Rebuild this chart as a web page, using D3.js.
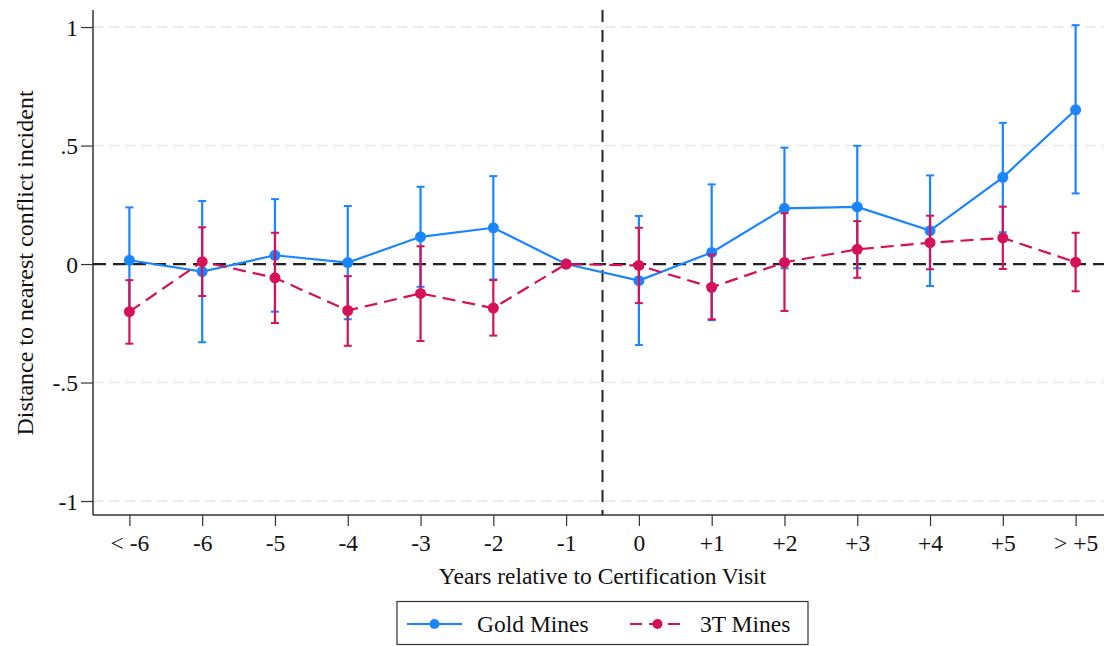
<!DOCTYPE html>
<html>
<head>
<meta charset="utf-8">
<script src="https://cdn.jsdelivr.net/npm/d3@7"></script>
<style>
  body { margin: 0; background: #fff; }
  svg text { font-family: "Liberation Serif", "Times New Roman", serif; fill: #111; }
</style>
</head>
<body>
<div id="chart"></div>
<script>
// categories on the x axis
const periods = ["< -6", "-6", "-5", "-4", "-3", "-2", "-1", "0", "+1", "+2", "+3", "+4", "+5", "> +5"];

// Gold mines: estimate and 95% CI
const goldEst = [0.016, -0.032, 0.037, 0.006, 0.115, 0.153, 0, -0.070, 0.049, 0.235, 0.241, 0.141, 0.366, 0.651];
const goldLo  = [-0.207, -0.330, -0.201, -0.233, -0.096, -0.065, null, -0.342, -0.237, -0.018, -0.018, -0.093, 0.134, 0.298];
const goldHi  = [0.239, 0.266, 0.274, 0.245, 0.326, 0.371, null, 0.203, 0.336, 0.491, 0.499, 0.374, 0.596, 1.008];

// 3T mines: estimate and 95% CI
const tEst = [-0.201, 0.010, -0.058, -0.196, -0.124, -0.186, 0, -0.006, -0.098, 0.007, 0.062, 0.090, 0.110, 0.008];
const tLo  = [-0.336, -0.135, -0.249, -0.345, -0.325, -0.302, null, -0.165, -0.233, -0.198, -0.058, -0.022, -0.021, -0.115];
const tHi  = [-0.068, 0.155, 0.132, -0.051, 0.075, -0.068, null, 0.153, 0.040, 0.214, 0.181, 0.204, 0.242, 0.132];

const yTicks = [-1, -0.5, 0, 0.5, 1];
const yTickLabels = ["-1", "-.5", "0", ".5", "1"];

const blue = "#1a85ff";
const red = "#d41159";
const fontSize = "23.5px";

const W = 1106, H = 646;
const svg = d3.select("#chart").append("svg")
    .attr("width", W)
    .attr("height", H);

// plot area
const plot = { left: 93, right: 1104, top: 10, bottom: 515 };

const x = d3.scaleLinear()
    .domain([-0.5, 13.39])
    .range([plot.left, plot.right]);

const y = d3.scaleLinear()
    .domain([-1.059, 1.072])
    .range([plot.bottom, plot.top]);

// grid lines
svg.append("g")
    .selectAll("line")
    .data(yTicks.filter(d => d !== 0))
    .enter().append("line")
    .attr("x1", plot.left).attr("x2", plot.right)
    .attr("y1", d => y(d)).attr("y2", d => y(d))
    .attr("stroke", "#e8e8e8")
    .attr("stroke-width", 1.5)
    .attr("stroke-dasharray", "10 6");

// y axis
const yAxis = svg.append("g")
    .attr("transform", `translate(${plot.left},0)`)
    .call(d3.axisLeft(y).tickValues(yTicks).tickSize(12).tickPadding(3)
        .tickFormat((d, i) => yTickLabels[i]));
yAxis.select(".domain").attr("d", `M0,${plot.top}V${plot.bottom}`).attr("stroke", "#333").attr("stroke-width", 1.5);
yAxis.selectAll(".tick line").attr("stroke", "#333").attr("stroke-width", 1.2);
yAxis.selectAll("text").style("font-size", fontSize).attr("dy", "0.34em");

// x axis
const xAxis = svg.append("g")
    .attr("transform", `translate(0,${plot.bottom})`)
    .call(d3.axisBottom(x).tickValues(d3.range(periods.length)).tickSize(11).tickPadding(8)
        .tickFormat(i => periods[i]));
xAxis.select(".domain").attr("d", `M${plot.left},0H${plot.right}`).attr("stroke", "#333").attr("stroke-width", 1.5);
xAxis.selectAll(".tick line").attr("stroke", "#333").attr("stroke-width", 1.2);
xAxis.selectAll("text").style("font-size", fontSize);

// reference lines
svg.append("line")
    .attr("x1", plot.left).attr("x2", plot.right)
    .attr("y1", y(0)).attr("y2", y(0))
    .attr("stroke", "#222").attr("stroke-width", 2.2)
    .attr("stroke-dasharray", "13 7");

svg.append("line")
    .attr("x1", x(6.5)).attr("x2", x(6.5))
    .attr("y1", plot.top).attr("y2", plot.bottom)
    .attr("stroke", "#222").attr("stroke-width", 2)
    .attr("stroke-dasharray", "12 8");

// series
function drawSeries(est, lo, hi, color, dash) {
    const pts = est.map((v, i) => ({ i: i, v: v, lo: lo[i], hi: hi[i] }));
    const g = svg.append("g");

    g.append("path")
        .datum(pts)
        .attr("fill", "none")
        .attr("stroke", color)
        .attr("stroke-width", 2.2)
        .attr("stroke-dasharray", dash)
        .attr("d", d3.line().x(d => x(d.i)).y(d => y(d.v)));

    const ci = pts.filter(d => d.lo !== null);
    g.selectAll(".bar").data(ci).enter().append("line")
        .attr("x1", d => x(d.i)).attr("x2", d => x(d.i))
        .attr("y1", d => y(d.lo)).attr("y2", d => y(d.hi))
        .attr("stroke", color).attr("stroke-width", 2.2);
    ["lo", "hi"].forEach(k => {
        g.selectAll(".cap" + k).data(ci).enter().append("line")
            .attr("x1", d => x(d.i) - 4).attr("x2", d => x(d.i) + 4)
            .attr("y1", d => y(d[k])).attr("y2", d => y(d[k]))
            .attr("stroke", color).attr("stroke-width", 2);
    });

    g.selectAll("circle").data(pts).enter().append("circle")
        .attr("cx", d => x(d.i)).attr("cy", d => y(d.v))
        .attr("r", 5.5)
        .attr("fill", color);
}

drawSeries(goldEst, goldLo, goldHi, blue, null);
drawSeries(tEst, tLo, tHi, red, "13 7");

// axis titles
svg.append("text")
    .attr("transform", "translate(33,263) rotate(-90)")
    .attr("text-anchor", "middle")
    .style("font-size", "24px")
    .text("Distance to nearest conflict incident");

svg.append("text")
    .attr("x", (plot.left + plot.right) / 2 + 4)
    .attr("y", 584)
    .attr("text-anchor", "middle")
    .style("font-size", fontSize)
    .text("Years relative to Certification Visit");

// legend
const legend = svg.append("g");
legend.append("rect")
    .attr("x", 397).attr("y", 601.5)
    .attr("width", 411).attr("height", 43)
    .attr("fill", "#fff").attr("stroke", "#333").attr("stroke-width", 1.2);

const items = [
    { label: "Gold Mines", color: blue, dash: null, x0: 407 },
    { label: "3T Mines", color: red, dash: "12 7", x0: 630 }
];
items.forEach(it => {
    legend.append("line")
        .attr("x1", it.x0).attr("x2", it.x0 + 55)
        .attr("y1", 624).attr("y2", 624)
        .attr("stroke", it.color).attr("stroke-width", 2.2)
        .attr("stroke-dasharray", it.dash);
    legend.append("circle")
        .attr("cx", it.x0 + 27.5).attr("cy", 624).attr("r", 5)
        .attr("fill", it.color);
    legend.append("text")
        .attr("x", it.x0 + 70).attr("y", 632)
        .style("font-size", fontSize)
        .text(it.label);
});
</script>
</body>
</html>
